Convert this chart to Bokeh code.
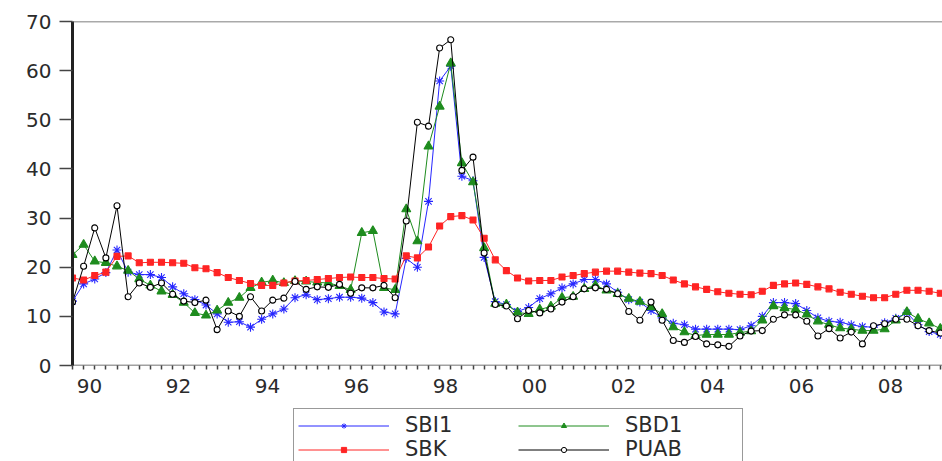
from bokeh.plotting import figure
from bokeh.layouts import column
from bokeh.models import (Range1d, FixedTicker, LinearAxis, Span, Legend,
                          LegendItem, ColumnDataSource)
from bokeh.embed import file_html
from bokeh.resources import INLINE

# ---------------- data (quarterly, 1990Q1 .. 2009Q3) ----------------
start_year = 1990
n_quarters = 79
quarters = [start_year + i / 4 for i in range(n_quarters)]

sbi1 = [13.1, 16.6, 17.6, 18.9, 23.5, 19.0, 18.5, 18.5, 17.9, 16.0,
        14.6, 13.4, 12.3, 10.5, 8.8, 8.9, 7.8, 9.4, 10.5, 11.5,
        13.8, 14.4, 13.4, 13.6, 13.9, 13.9, 13.7, 12.8, 10.9, 10.5,
        21.8, 20.0, 33.4, 57.9, 60.9, 38.5, 37.6, 22.0, 13.0, 12.4,
        11.0, 11.8, 13.6, 14.6, 15.8, 16.6, 17.5, 17.5, 16.6, 14.9,
        13.4, 12.9, 11.2, 9.7, 8.6, 8.3, 7.4, 7.4, 7.4, 7.4,
        7.3, 8.1, 10.0, 12.8, 12.8, 12.6, 11.2, 9.7, 9.0, 8.8,
        8.3, 7.9, 7.8, 8.7, 9.6, 10.7, 8.3, 6.9, 6.3]

sbd1 = [22.5, 24.6, 21.2, 20.9, 20.2, 19.3, 17.6, 16.3, 15.1, 14.4,
        12.8, 10.7, 10.2, 11.2, 12.8, 13.8, 15.8, 16.9, 17.3, 16.8,
        17.2, 17.1, 16.9, 16.8, 16.2, 15.4, 27.0, 27.4, 15.8, 15.4,
        31.8, 25.3, 44.6, 52.7, 61.5, 41.2, 37.3, 23.9, 12.6, 12.4,
        10.8, 10.5, 11.4, 12.0, 13.8, 14.0, 15.6, 16.3, 15.3, 14.6,
        13.6, 13.0, 11.9, 10.5, 7.8, 6.8, 6.1, 6.3, 6.3, 6.3,
        6.7, 7.0, 9.2, 12.1, 11.7, 11.4, 10.4, 9.0, 8.3, 7.6,
        7.4, 7.1, 7.1, 7.4, 9.2, 10.9, 9.5, 8.6, 7.5]

sbk = [17.8, 17.4, 18.3, 19.0, 22.2, 22.3, 20.9, 21.0, 21.0, 20.9,
       20.8, 19.9, 19.7, 18.9, 17.9, 17.3, 16.7, 16.3, 16.3, 16.8,
       17.2, 17.3, 17.5, 17.7, 17.9, 18.0, 17.9, 17.9, 17.7, 17.6,
       22.3, 21.9, 24.1, 28.4, 30.3, 30.5, 29.6, 25.9, 21.5, 19.3,
       17.8, 17.2, 17.3, 17.3, 18.0, 18.3, 18.7, 19.0, 19.2, 19.2,
       19.0, 18.8, 18.7, 18.3, 17.4, 16.6, 16.0, 15.5, 15.0, 14.7,
       14.5, 14.4, 15.1, 16.3, 16.6, 16.8, 16.5, 16.0, 15.6, 14.9,
       14.5, 14.1, 13.8, 13.8, 14.5, 15.3, 15.3, 15.1, 14.7]

puab = [12.9, 20.2, 28.0, 21.9, 32.5, 14.0, 16.8, 15.9, 16.8, 14.5,
        13.1, 12.8, 13.3, 7.3, 11.1, 10.0, 14.0, 11.1, 13.3, 13.7,
        17.1, 15.5, 16.0, 15.9, 16.5, 14.7, 15.8, 15.8, 16.3, 13.8,
        29.4, 49.5, 48.7, 64.6, 66.3, 39.7, 42.4, 22.9, 12.4, 12.1,
        9.5, 11.2, 10.7, 11.5, 12.9, 14.0, 15.6, 15.8, 15.5, 14.6,
        11.0, 9.2, 12.9, 9.2, 5.1, 4.7, 5.9, 4.4, 4.2, 3.9,
        6.0, 7.0, 7.1, 9.4, 10.3, 10.3, 9.0, 6.0, 7.5, 5.6,
        6.8, 4.4, 8.1, 8.5, 9.4, 9.4, 8.1, 7.1, 6.6]

y_ticks = [0, 10, 20, 30, 40, 50, 60, 70]
label_years = [1990, 1992, 1994, 1996, 1998, 2000, 2002, 2004, 2006, 2008]
x_tick_labels = ["90", "92", "94", "96", "98", "00", "02", "04", "06", "08"]
year_ticks = list(range(1990, 2010))
series_names = ["SBI1", "SBD1", "SBK", "PUAB"]

src = ColumnDataSource(dict(x=quarters, sbi1=sbi1, sbd1=sbd1, sbk=sbk, puab=puab))

FONT = "DejaVu Sans"
TXT = "#2b2b2b"
AX = "#444444"
BLUE = "#2626ff"
GREEN = "#1e8c1e"
RED = "#ff2424"
BLACK = "#000000"

# ---------------- main figure ----------------
X0, X1 = 1990.0, 2009.55
p = figure(width=942, height=398, output_backend="svg", toolbar_location=None,
           x_range=Range1d(X0, X1), y_range=Range1d(0, 70),
           x_axis_type=None, y_axis_type=None,
           min_border_left=72, min_border_right=0, min_border_top=21,
           min_border_bottom=33)
p.outline_line_color = None
p.background_fill_color = "white"
p.border_fill_color = "white"
p.grid.visible = False

# y axis
yax = LinearAxis(ticker=FixedTicker(ticks=y_ticks, minor_ticks=[]))
yax.axis_line_width = 3
yax.axis_line_color = "#222222"
yax.major_tick_out = 13
yax.major_tick_in = 0
yax.major_tick_line_color = AX
yax.major_tick_line_width = 1.5
yax.major_label_standoff = 8
yax.major_label_text_font = FONT
yax.major_label_text_font_size = "20px"
yax.major_label_text_color = TXT
p.add_layout(yax, "left")

# x axis A: axis line + yearly tick marks (no labels), pinned at y = 0
tax = LinearAxis(ticker=FixedTicker(ticks=[], minor_ticks=year_ticks),
                 fixed_location=0)
tax.axis_line_width = 1.5
tax.axis_line_color = AX
tax.major_tick_out = 0
tax.major_tick_in = 0
tax.minor_tick_out = 7
tax.minor_tick_in = 0
tax.minor_tick_line_color = AX
tax.minor_tick_line_width = 1.5
tax.major_label_standoff = 0
p.add_layout(tax, "below")

# x axis B: quarterly tick marks + year labels (labels sit right of the year tick)
shift = 0.38
p.extra_x_ranges = {"lab": Range1d(X0 - shift, X1 - shift)}
lax = LinearAxis(x_range_name="lab",
                 ticker=FixedTicker(ticks=label_years,
                                    minor_ticks=[q - shift for q in quarters]))
lax.major_label_overrides = {y: t for y, t in zip(label_years, x_tick_labels)}
lax.axis_line_color = None
lax.major_tick_line_color = None
lax.major_tick_out = 0
lax.major_tick_in = 0
lax.minor_tick_out = 4
lax.minor_tick_in = 0
lax.minor_tick_line_color = AX
lax.minor_tick_line_width = 1.5
lax.major_label_standoff = 9
lax.major_label_text_font = FONT
lax.major_label_text_font_size = "20px"
lax.major_label_text_color = TXT
p.add_layout(lax, "below")

# top frame line
p.add_layout(Span(location=70, dimension="width", line_color="#555555", line_width=1.5))

# ---------------- series ----------------
styles = [
    dict(col="sbi1", color=BLUE, marker="asterisk", size=9, fill=None),
    dict(col="sbd1", color=GREEN, marker="triangle", size=9, fill=GREEN),
    dict(col="sbk", color=RED, marker="square", size=6, fill=RED),
    dict(col="puab", color=BLACK, marker="circle", size=6, fill="white"),
]
for s in styles:
    p.line("x", s["col"], source=src, line_color=s["color"], line_width=1)
    p.scatter("x", s["col"], source=src, marker=s["marker"], size=s["size"],
              line_color=s["color"], fill_color=s["fill"], line_width=1.1)

# ---------------- legend strip (second figure, same series & styles) ----------------
# its own ranges keep the series out of view; only the legend shows
pl = figure(width=942, height=63, output_backend="svg", toolbar_location=None,
            x_range=Range1d(0, 1), y_range=Range1d(0, 1),
            x_axis_type=None, y_axis_type=None,
            min_border_left=72, min_border_right=0, min_border_top=0,
            min_border_bottom=0)
pl.outline_line_color = None
pl.grid.visible = False
pl.background_fill_color = "white"
pl.border_fill_color = "white"

items = []
for name, s in zip(series_names, styles):
    lr = pl.line("x", s["col"], source=src, line_color=s["color"], line_width=1)
    mr = pl.scatter("x", s["col"], source=src, marker=s["marker"], size=s["size"],
                    line_color=s["color"], fill_color=s["fill"], line_width=1)
    items.append(LegendItem(label=name, renderers=[lr, mr]))

legend = Legend(items=items, orientation="horizontal", ncols=2, location=(221, -5))
legend.padding = 4
legend.spacing = 0
legend.margin = 0
legend.glyph_width = 91
legend.glyph_height = 13
legend.label_height = 21
legend.label_width = 113
legend.label_standoff = 16
legend.label_text_font = FONT
legend.label_text_font_size = "21px"
legend.label_text_color = TXT
legend.border_line_color = "#333333"
legend.border_line_width = 1.5
legend.background_fill_color = "white"
legend.background_fill_alpha = 1
pl.add_layout(legend)

layout = column(p, pl, spacing=0)
open("out.html", "w").write(file_html(layout, INLINE))
